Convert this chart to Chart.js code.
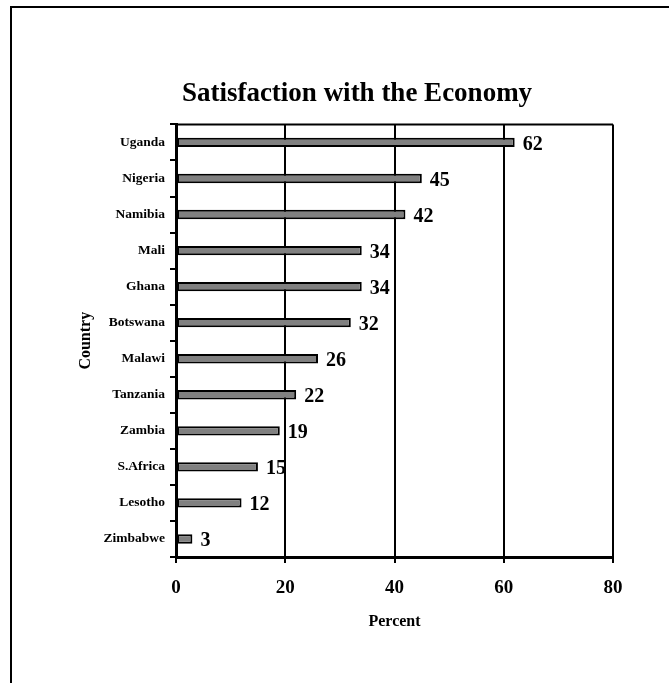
<!DOCTYPE html>
<html>
<head>
<meta charset="utf-8">
<title>Satisfaction with the Economy</title>
<script src="https://cdn.jsdelivr.net/npm/chart.js@4"></script>
<style>
    body { margin: 0; background: #fff; }
    #wrap { width: 669px; height: 683px; }
</style>
</head>
<body>
<div id="wrap"><canvas id="graph" width="669" height="683"></canvas></div>
<script>
// data
const countries = ['Uganda', 'Nigeria', 'Namibia', 'Mali', 'Ghana', 'Botswana',
    'Malawi', 'Tanzania', 'Zambia', 'S.Africa', 'Lesotho', 'Zimbabwe'];
const satisfied = [62, 45, 42, 34, 34, 32, 26, 22, 19, 15, 12, 3];
const percentTicks = [0, 20, 40, 60, 80];

const serif = '"Liberation Serif", "Times New Roman", serif';

// outer frame (left + top only) and top edge of the plot box
const framePlugin = {
    id: 'frame',
    afterDraw(chart) {
        const ctx = chart.ctx;
        const area = chart.chartArea;
        ctx.save();
        ctx.strokeStyle = '#000';
        ctx.lineWidth = 2;
        ctx.beginPath();
        ctx.moveTo(11, chart.height);
        ctx.lineTo(11, 7);
        ctx.lineTo(chart.width, 7);
        ctx.stroke();
        ctx.beginPath();
        ctx.moveTo(area.left, area.top);
        ctx.lineTo(area.right, area.top);
        ctx.stroke();
        ctx.restore();
    }
};

// value labels right of each bar
const valueLabels = {
    id: 'valueLabels',
    afterDatasetsDraw(chart) {
        const ctx = chart.ctx;
        const meta = chart.getDatasetMeta(0);
        ctx.save();
        ctx.font = 'bold 20px ' + serif;
        ctx.fillStyle = '#000';
        ctx.textAlign = 'left';
        ctx.textBaseline = 'middle';
        meta.data.forEach((bar, i) => {
            ctx.fillText(String(satisfied[i]), bar.x + 8, bar.y + 2);
        });
        ctx.restore();
    }
};

const config = {
    type: 'bar',
    data: {
        labels: countries,
        datasets: [{
            label: 'Percent',
            data: satisfied,
            backgroundColor: '#808080',
            borderColor: '#000',
            borderWidth: 2,
            borderSkipped: false,
            categoryPercentage: 1,
            barPercentage: 0.26
        }]
    },
    options: {
        indexAxis: 'y',
        responsive: false,
        animation: false,
        layout: {
            padding: { left: 101, right: 56, top: 8, bottom: 46 }
        },
        plugins: {
            legend: { display: false },
            tooltip: { enabled: false },
            title: {
                display: true,
                text: 'Satisfaction with the Economy',
                color: '#000',
                font: { family: serif, size: 27, weight: 'bold' },
                padding: { top: 70, bottom: 14 }
            }
        },
        scales: {
            x: {
                min: 0,
                max: 80,
                afterBuildTicks: (scale) => {
                    scale.ticks = percentTicks.map(v => ({ value: v }));
                },
                afterFit: (scale) => { scale.height = 80; },
                grid: {
                    color: '#000',
                    lineWidth: 2,
                    drawTicks: true,
                    tickLength: 6
                },
                border: { display: true, color: '#000', width: 3 },
                ticks: {
                    color: '#000',
                    padding: 14,
                    font: { family: serif, size: 19, weight: 'bold' }
                },
                title: {
                    display: true,
                    text: 'Percent',
                    color: '#000',
                    font: { family: serif, size: 16, weight: 'bold' },
                    padding: { top: 0, bottom: 6 }
                }
            },
            y: {
                afterFit: (scale) => { scale.width = 75; },
                grid: {
                    color: '#000',
                    lineWidth: 2,
                    drawOnChartArea: false,
                    drawTicks: true,
                    tickLength: 6,
                    offset: true
                },
                border: { display: true, color: '#000', width: 3 },
                ticks: {
                    color: '#000',
                    padding: 5,
                    autoSkip: false,
                    font: { family: serif, size: 13.5, weight: 'bold' }
                },
                title: {
                    display: true,
                    text: 'Country',
                    color: '#000',
                    font: { family: serif, size: 16, weight: 'bold' },
                    padding: { top: -25, bottom: 0 }
                }
            }
        }
    },
    plugins: [framePlugin, valueLabels]
};

var ctx = document.getElementById('graph').getContext('2d');
var graph = new Chart(ctx, config);
</script>
</body>
</html>
